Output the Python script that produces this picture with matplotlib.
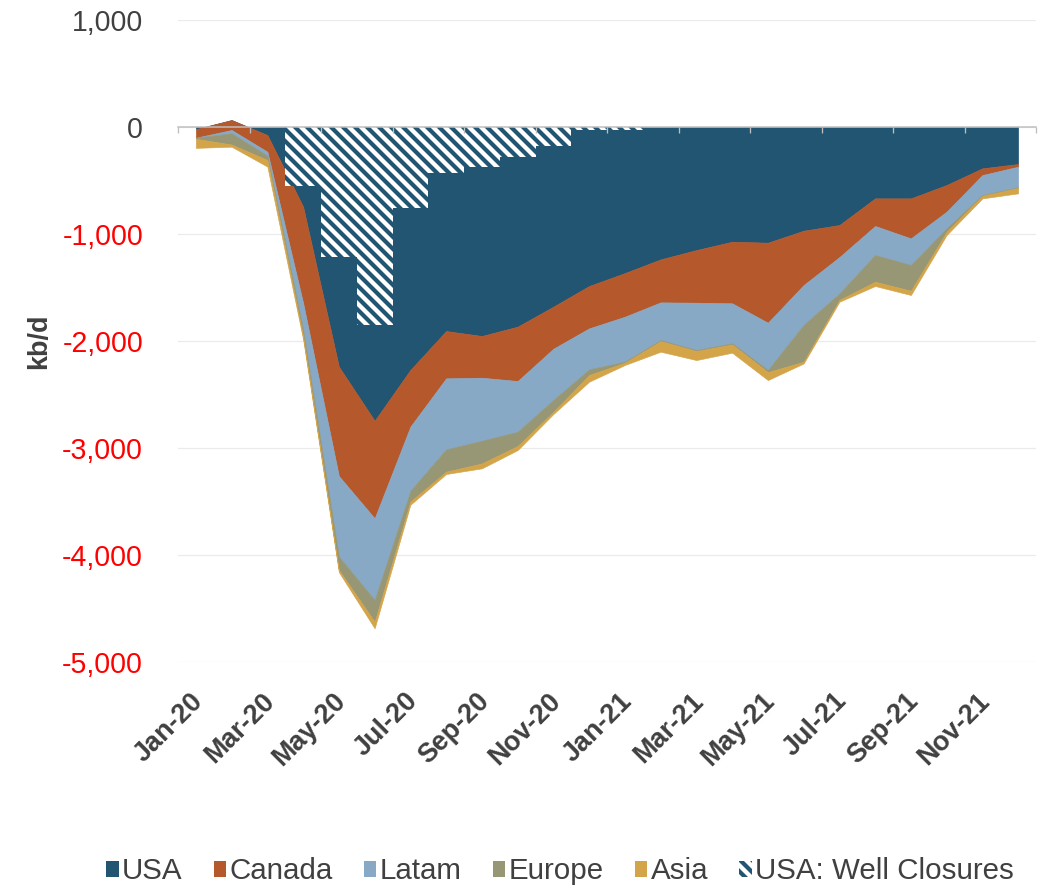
import matplotlib
matplotlib.use('Agg')
import matplotlib.pyplot as plt
from matplotlib.patches import Patch
import matplotlib.transforms as mtransforms
import numpy as np

plt.rcParams['font.family'] = ['Liberation Sans', 'DejaVu Sans']
plt.rcParams['hatch.linewidth'] = 4.2

months = ['Jan-20', 'Feb-20', 'Mar-20', 'Apr-20', 'May-20', 'Jun-20', 'Jul-20', 'Aug-20',
          'Sep-20', 'Oct-20', 'Nov-20', 'Dec-20', 'Jan-21', 'Feb-21', 'Mar-21', 'Apr-21',
          'May-21', 'Jun-21', 'Jul-21', 'Aug-21', 'Sep-21', 'Oct-21', 'Nov-21', 'Dec-21']

usa = [-20, 65, -75, -745, -2240, -2745, -2270, -1907, -1953, -1866, -1679, -1486,
       -1365, -1237, -1150, -1072, -1081, -969, -916, -667, -667, -542, -386, -346]
canada = [-80, -93, -156, -900, -1022, -912, -530, -442, -390, -508, -393, -396,
          -408, -402, -492, -576, -748, -508, -300, -258, -374, -249, -63, -25]
latam = [0, -31, -37, -250, -754, -764, -600, -664, -589, -474, -479, -383,
         -420, -352, -442, -374, -442, -373, -340, -271, -249, -156, -187, -193]
europe = [-10, -105, -40, -60, -124, -202, -100, -208, -212, -133, -110, -53,
          -10, -10, -10, -10, -20, -343, -60, -250, -240, -31, -5, -5]
asia = [-85, -20, -62, -30, -20, -62, -30, -22, -46, -38, -21, -62,
        -21, -99, -84, -77, -74, -17, -17, -40, -40, -31, -26, -51]
well_closures = [0, 0, 0, -550, -1212, -1850, -760, -427, -371, -283, -175, -30,
                 -25, 0, 0, 0, 0, 0, 0, 0, 0, 0, 0, 0]

series_names = ['USA', 'Canada', 'Latam', 'Europe', 'Asia']
colors = ['#215571', '#B5592D', '#87A9C5', '#979775', '#D4A449']
text_gray = '#404040'

W, H = 1043, 887
fig = plt.figure(figsize=(W / 72, H / 72), dpi=72)
ax = fig.add_axes([178 / W, 225 / H, 858 / W, 642 / H])

x = np.arange(len(months))
base = np.zeros(len(x))
for vals, col in zip([usa, canada, latam, europe, asia], colors):
    top = base + np.array(vals, dtype=float)
    ax.fill_between(x, base, top, facecolor=col, edgecolor=col, lw=0.6, zorder=2)
    base = top

ax.bar(x, well_closures, width=1.0, facecolor='white', edgecolor=colors[0],
       hatch='\\\\', lw=0, zorder=3)

ax.set_xlim(-0.5, len(months) - 0.5)
ax.set_ylim(-5000, 1000)
yt = np.arange(-5000, 1001, 1000)
ax.set_yticks(yt)
ax.set_yticklabels([f'{v:,}' for v in yt])
for lab, v in zip(ax.get_yticklabels(), yt):
    lab.set_color('#FF0000' if v < 0 else text_gray)
ax.tick_params(axis='y', length=0, pad=35, labelsize=28.5)
ax.grid(axis='y', color='#EBEBEB', lw=1.3)
ax.set_axisbelow(True)
for s in ax.spines.values():
    s.set_visible(False)

ax.set_xticks(x[::2])
ax.set_xticklabels(months[::2], rotation=45, ha='right', rotation_mode='anchor',
                   fontweight='bold', fontsize=27, color=text_gray)
ax.tick_params(axis='x', length=0, pad=26)
shift = mtransforms.ScaledTranslation(-6 / 72, 0, fig.dpi_scale_trans)
for lab in ax.get_xticklabels():
    lab.set_transform(lab.get_transform() + shift)

ax.set_ylabel('kb/d', fontweight='bold', fontsize=27, color=text_gray, labelpad=10)

# zero line with tick marks at category boundaries
sec = ax.secondary_xaxis(5000 / 6000)
sec.set_alignment('bottom')
sec.set_xticks(np.arange(-0.5, len(months), 2))
sec.tick_params(axis='x', direction='out', length=6, width=1.3, color='#BFBFBF',
                labelbottom=False, labeltop=False)
for s in sec.spines.values():
    s.set_color('#BFBFBF')
    s.set_linewidth(1.5)
sec.set_zorder(5)

handles = [Patch(facecolor=c, edgecolor=c, lw=0) for c in colors]
handles.append(Patch(facecolor='white', edgecolor=colors[0], hatch='\\\\', lw=0))
labels = series_names + ['USA: Well Closures']
fig.legend(handles, labels, loc='center', bbox_to_anchor=(0.537, 0.0175), ncol=6,
           frameon=False, fontsize=29.5, handlelength=0.42, handleheight=0.42,
           handletextpad=0.12, columnspacing=1.05, labelcolor=text_gray,
           borderaxespad=0, borderpad=0)

fig.savefig('out.png', dpi=72)
